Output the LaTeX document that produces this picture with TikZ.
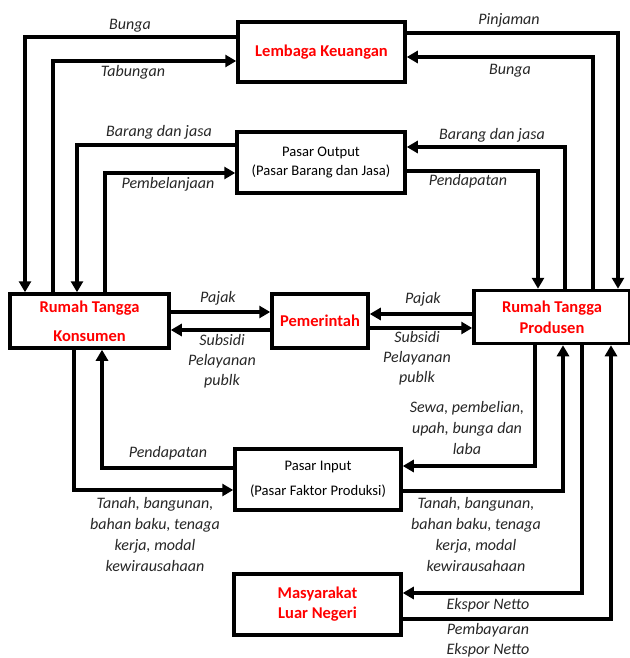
\documentclass[tikz,border=0pt]{standalone}
\usepackage{fontspec}
\setmainfont{Carlito}
\usetikzlibrary{arrows.meta}
\begin{document}
\begin{tikzpicture}[x=1pt,y=-1pt,
  box/.style={draw,line width=3.5pt,inner sep=0pt,align=center},
  hd/.style={box,text=red,font=\fontsize{16.5}{21}\selectfont\bfseries},
  mk/.style={box,font=\fontsize{14.6}{19}\selectfont},
  lbl/.style={font=\fontsize{16}{21}\selectfont\itshape,align=center,inner sep=0pt,text=black!85},
  arr/.style={line width=3.5pt,-{Triangle[length=11pt,width=12pt]}},
]
\useasboundingbox (0,0) rectangle (629,658);

% boxes
\node[hd,minimum width=167pt,minimum height=60pt] (lk) at (321.5,52) {Lembaga Keuangan};
\node[mk,minimum width=168pt,minimum height=61pt] (po) at (321,162.5) {Pasar Output\\(Pasar Barang dan Jasa)};
\node[hd,minimum width=159pt,minimum height=54pt,font=\fontsize{16.5}{29}\selectfont\bfseries] (rtk) at (89.5,321) {Rumah Tangga\\Konsumen};
\node[hd,minimum width=96pt,minimum height=54pt] (pem) at (320,321) {Pemerintah};
\node[hd,minimum width=156pt,minimum height=53pt] (rtp) at (552,317) {Rumah Tangga\\Produsen};
\node[mk,minimum width=166pt,minimum height=61pt,font=\fontsize{14.6}{25}\selectfont] (pi) at (318,479.5) {Pasar Input\\(Pasar Faktor Produksi)};
\node[hd,minimum width=167pt,minimum height=61pt,font=\fontsize{16.5}{20}\selectfont\bfseries] (ml) at (317.5,604.5) {Masyarakat\\Luar Negeri};

% connectors: top left
\draw[arr] (lk.west |- 0,37) -| (rtk.north -| 25,0);
\draw[arr] (rtk.north -| 53,0) |- (lk.west |- 0,61);
\draw[arr] (po.west |- 0,145) -| (rtk.north -| 77,0);
\draw[arr] (rtk.north -| 105,0) |- (po.west |- 0,173);
% top right
\draw[arr] (lk.east |- 0,33) -| (rtp.north -| 618,0);
\draw[arr] (rtp.north -| 593,0) |- (lk.east |- 0,57);
\draw[arr] (rtp.north -| 565,0) |- (po.east |- 0,147);
\draw[arr] (po.east |- 0,171) -| (rtp.north -| 538,0);
% government
\draw[arr] (rtk.east |- 0,312) -- (pem.west |- 0,312);
\draw[arr] (pem.west |- 0,330) -- (rtk.east |- 0,330);
\draw[arr] (rtp.west |- 0,314) -- (pem.east |- 0,314);
\draw[arr] (pem.east |- 0,328) -- (rtp.west |- 0,328);
% bottom right
\draw[arr] (rtp.south -| 535,0) |- (pi.east |- 0,466);
\draw[arr] (pi.east |- 0,491) -| (rtp.south -| 563,0);
\draw[arr] (rtp.south -| 582,0) |- (ml.east |- 0,593);
\draw[arr] (ml.east |- 0,619) -| (rtp.south -| 611,0);
% bottom left
\draw[arr] (pi.west |- 0,468) -| (rtk.south -| 102,0);
\draw[arr] (rtk.south -| 74,0) |- (pi.west |- 0,490);

% labels
\node[lbl] (l1) at (130,26) {Bunga};
\node[lbl] (l2) at (133,72) {Tabungan};
\node[lbl] (l3) at (509,20) {Pinjaman};
\node[lbl] (l4) at (510,71) {Bunga};
\node[lbl] (l5) at (159,132) {Barang dan jasa};
\node[lbl] (l6) at (168,184) {Pembelanjaan};
\node[lbl] (l7) at (492,135) {Barang dan jasa};
\node[lbl] (l8) at (468,181) {Pendapatan};
\node[lbl] (l9) at (218,298) {Pajak};
\node[lbl,font=\fontsize{16}{20}\selectfont\itshape] (l10) at (222,361) {Subsidi\\Pelayanan\\publk};
\node[lbl] (l11) at (423,299) {Pajak};
\node[lbl,font=\fontsize{16}{20}\selectfont\itshape] (l12) at (417,358) {Subsidi\\Pelayanan\\publk};
\node[lbl] (l13) at (467,428) {Sewa, pembelian,\\upah, bunga dan\\laba};
\node[lbl] (l14) at (168,453) {Pendapatan};
\node[lbl] (l15) at (155,534.5) {Tanah, bangunan,\\bahan baku, tenaga\\kerja, modal\\kewirausahaan};
\node[lbl] (l16) at (476,534.5) {Tanah, bangunan,\\bahan baku, tenaga\\kerja, modal\\kewirausahaan};
\node[lbl] (l17) at (488,605) {Ekspor Netto};
\node[lbl,font=\fontsize{16}{20}\selectfont\itshape] (l18) at (488,640) {Pembayaran\\Ekspor Netto};
\end{tikzpicture}
\end{document}
